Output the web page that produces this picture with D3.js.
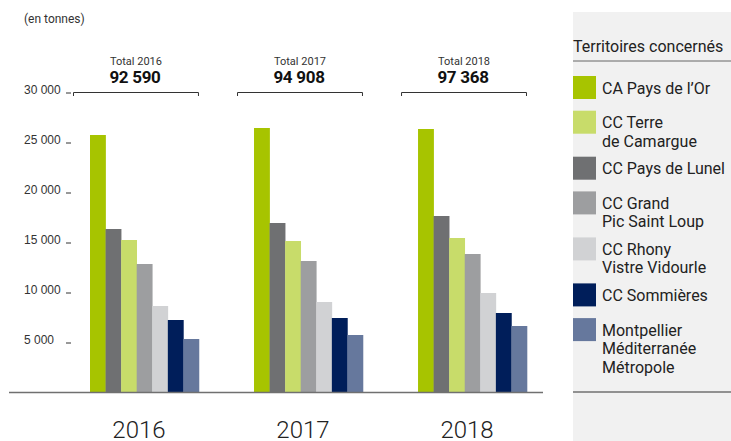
<!DOCTYPE html>
<html>
<head>
<meta charset="utf-8">
<script src="https://cdn.jsdelivr.net/npm/d3@7"></script>
<style>
  body { margin: 0; background: #fff; }
  svg { display: block; font-family: Roboto, "Noto Sans", sans-serif; }
</style>
</head>
<body>
<div id="chart"></div>
<script>
// Data (tonnes)
var years = ["2016", "2017", "2018"];
var totals = ["92 590", "94 908", "97 368"];

// legend order
var territoires = ["CA Pays de l\u2019Or", "CC Terre\nde Camargue", "CC Pays de Lunel",
  "CC Grand\nPic Saint Loup", "CC Rhony\nVistre Vidourle", "CC Sommi\u00e8res",
  "Montpellier\nM\u00e9diterran\u00e9e\nM\u00e9tropole"];
var couleurs = ["#a7c400", "#c8dc6a", "#6f7072", "#9d9ea0", "#d1d2d4", "#001e5a", "#66789d"];

// order of the bars inside each year group (index into territoires)
var barOrder = [0, 2, 1, 3, 4, 5, 6];

// values per territory, legend order, one entry per year
var valeurs = [
  [25700, 26400, 26300],  // CA Pays de l'Or
  [15200, 15100, 15400],  // CC Terre de Camargue
  [16300, 16900, 17600],  // CC Pays de Lunel
  [12800, 13100, 13800],  // CC Grand Pic Saint Loup
  [8600, 9000, 9900],     // CC Rhony Vistre Vidourle
  [7200, 7400, 7900],     // CC Sommieres
  [5300, 5700, 6600]      // Montpellier Mediterranee Metropole
];
var yTicks = [5000, 10000, 15000, 20000, 25000, 30000];

var width = 731, height = 441;
var svg = d3.select("#chart").append("svg")
  .attr("width", width)
  .attr("height", height);

//Scales
var y = d3.scaleLinear().domain([0, 30000]).range([392, 92]);
var x = d3.scaleBand().domain(years).range([73, 527]).paddingInner(0.232).paddingOuter(0);
var xInner = d3.scaleBand().domain(barOrder).range([17, x.bandwidth()]).padding(0);

// Y axis : left aligned labels, small dashes
var yAxis = svg.append("g")
  .attr("transform", "translate(71,0)")
  .call(d3.axisLeft(y).tickValues(yTicks).tickSize(5).tickSizeOuter(0)
    .tickFormat(function (d) { return d3.format(",")(d).replace(",", " "); }));
yAxis.select(".domain").remove();
yAxis.selectAll(".tick line").attr("stroke", "#333").attr("transform", "translate(0,0.5)");
yAxis.selectAll(".tick text")
  .attr("x", -47)
  .attr("dy", "1px")
  .attr("text-anchor", "start")
  .style("font-size", "12px")
  .style("fill", "#333");

// "(en tonnes)"
svg.append("text")
  .attr("x", 24).attr("y", 23)
  .style("font-size", "12px").style("fill", "#333")
  .text("(en tonnes)");

// Bars
var groups = svg.selectAll(".year")
  .data(years)
  .enter().append("g")
  .attr("class", "year")
  .attr("transform", function (d) { return "translate(" + x(d) + ",0)"; });

groups.selectAll("rect")
  .data(function (yr, j) {
    return barOrder.map(function (k) { return { k: k, v: valeurs[k][j] }; });
  })
  .enter().append("rect")
  .attr("x", function (d) { return xInner(d.k); })
  .attr("width", xInner.bandwidth() + 0.3)
  .attr("y", function (d) { return y(d.v); })
  .attr("height", function (d) { return y(0) - y(d.v); })
  .attr("fill", function (d) { return couleurs[d.k]; });

// Brackets with totals
groups.append("path")
  .attr("d", "M0.5,96V92.5H" + (x.bandwidth() - 0.5) + "V96")
  .attr("fill", "none")
  .attr("stroke", "#333")
  .attr("stroke-width", 1);

groups.append("text")
  .attr("x", x.bandwidth() / 2).attr("y", 65)
  .attr("text-anchor", "middle")
  .style("font-size", "11px").style("fill", "#333")
  .text(function (d) { return "Total " + d; });

groups.append("text")
  .attr("x", x.bandwidth() / 2 - 1).attr("y", 83)
  .attr("text-anchor", "middle")
  .style("font-size", "17px").style("font-weight", "bold").style("fill", "#111")
  .style("letter-spacing", "-0.3px")
  .text(function (d, i) { return totals[i]; });

// Year labels
groups.append("text")
  .attr("x", x.bandwidth() / 2 + 3).attr("y", 438)
  .attr("text-anchor", "middle")
  .style("font-size", "24px").style("font-weight", 300).style("fill", "#222")
  .text(function (d) { return d; });

// Baseline
svg.append("line")
  .attr("x1", 9).attr("x2", 543)
  .attr("y1", y(0) + 0.5).attr("y2", y(0) + 0.5)
  .attr("stroke", "#707070").attr("stroke-width", 1.5);

//------------------------------------------------------------------------------------->
// Legend panel
var legend = svg.append("g").attr("transform", "translate(573,0)");
legend.append("rect")
  .attr("x", 0).attr("y", 12)
  .attr("width", width - 573).attr("height", height - 12)
  .attr("fill", "#f1f1f1");

legend.append("text")
  .attr("x", 0).attr("y", 52)
  .style("font-size", "16px").style("fill", "#222")
  .text("Territoires concern\u00e9s");

legend.append("line")
  .attr("x1", 0).attr("x2", width - 573)
  .attr("y1", 61).attr("y2", 61)
  .attr("stroke", "#666").attr("stroke-width", 1);

legend.append("line")
  .attr("x1", 0).attr("x2", width - 573)
  .attr("y1", y(0)).attr("y2", y(0))
  .attr("stroke", "#707070").attr("stroke-width", 1.5);

var itemY = 76;
territoires.forEach(function (name, i) {
  var lines = name.split("\n");
  var item = legend.append("g").attr("transform", "translate(0," + itemY + ")");
  item.append("rect")
    .attr("width", 23).attr("height", 23)
    .attr("fill", couleurs[i]);
  item.append("text")
    .attr("x", 29).attr("y", 17.5)
    .style("font-size", "16px").style("fill", "#222")
    .selectAll("tspan")
    .data(lines)
    .enter().append("tspan")
    .attr("x", 29)
    .attr("dy", function (d, j) { return j === 0 ? 0 : 18.5; })
    .text(function (d) { return d; });
  itemY += 23.4 + 11.3 * lines.length;
});
</script>
</body>
</html>
